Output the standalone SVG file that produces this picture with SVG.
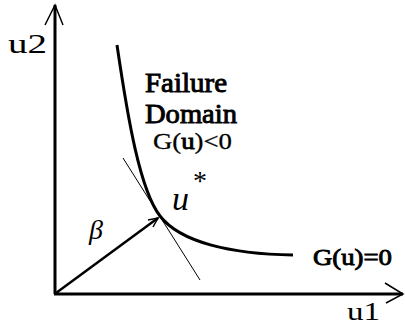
<svg xmlns="http://www.w3.org/2000/svg" width="405" height="327" viewBox="0 0 405 327">
<style>
.ax{stroke:#000;stroke-width:3;fill:none}
.head{stroke:#000;stroke-width:1.5;fill:none}
.thin{stroke:#000;stroke-width:1;fill:none}
.t{font-family:"Liberation Serif","DejaVu Serif",serif;fill:#000}
.b{stroke:#000;stroke-width:0.9}
</style>
<rect width="405" height="327" fill="#fff"/>
<g id="axes">
<line class="ax" x1="55" y1="5" x2="55" y2="294"/>
<line class="ax" x1="54" y1="294" x2="403" y2="294"/>
<path class="head" d="M45,25 L55,5 L63,25"/>
<path class="head" d="M385,283 L403,294 L386,303"/>
</g>
<g id="curve">
<path class="ax" d="M117,45 C128,120 140,190 160,216 C180,242 230,254 293,255"/>
<line class="thin" x1="123" y1="158" x2="200" y2="280"/>
</g>
<g id="beta-vector">
<line stroke="#000" stroke-width="2.5" x1="56" y1="293" x2="158" y2="218"/>
<path class="head" d="M148,220 L158,218 L153,227"/>
</g>
<g id="labels">
<text class="t" x="8" y="53" font-size="28" textLength="39" lengthAdjust="spacingAndGlyphs">u2</text>
<text class="t" x="347" y="320" font-size="25" textLength="33" lengthAdjust="spacingAndGlyphs">u1</text>
<text class="t b" x="145" y="92" font-size="27" textLength="82" lengthAdjust="spacingAndGlyphs">Failure</text>
<text class="t b" x="145" y="123" font-size="27" textLength="92" lengthAdjust="spacingAndGlyphs">Domain</text>
<text class="t" x="153" y="149" font-size="24" stroke="#000" stroke-width="0.3" textLength="79" lengthAdjust="spacingAndGlyphs">G(<tspan stroke-width="0.9">u</tspan>)&lt;0</text>
<text class="t b" x="313" y="265" font-size="24" stroke-width="0.6" textLength="79" lengthAdjust="spacingAndGlyphs">G(u)=0</text>
<text class="t" x="172" y="210" font-size="34" font-style="italic">u</text>
<text class="t" x="193" y="190" font-size="28">*</text>
<text class="t" x="89" y="239" font-size="28" font-style="italic">β</text>
</g>
</svg>
